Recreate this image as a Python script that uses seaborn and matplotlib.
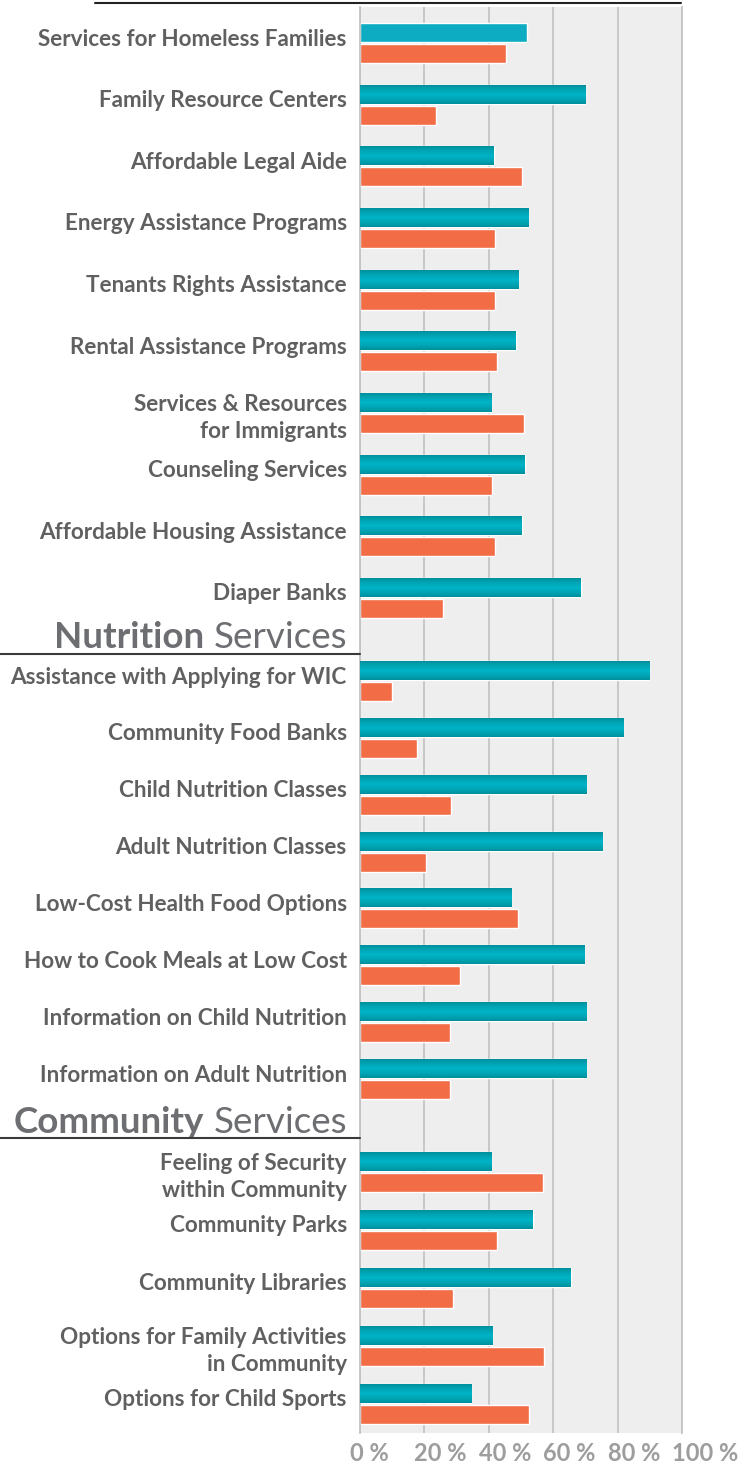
import numpy as np
import pandas as pd
import seaborn as sns
import matplotlib.pyplot as plt
from matplotlib.lines import Line2D
from matplotlib.colors import LinearSegmentedColormap
import matplotlib.transforms as mtransforms

# ---- data (percent of respondents) ----
general_items = ["Services for Homeless Families", "Family Resource Centers",
                 "Affordable Legal Aide", "Energy Assistance Programs",
                 "Tenants Rights Assistance", "Rental Assistance Programs",
                 "Services & Resources\nfor Immigrants", "Counseling Services",
                 "Affordable Housing Assistance", "Diaper Banks"]
general_teal = [51.8, 69.9, 41.6, 52.2, 49.1, 48.4, 40.7, 51.2, 50.3, 68.6]
general_orange = [45.2, 23.6, 50.3, 41.9, 41.9, 42.5, 50.9, 41.0, 41.9, 25.8]

nutrition_items = ["Assistance with Applying for WIC", "Community Food Banks",
                   "Child Nutrition Classes", "Adult Nutrition Classes",
                   "Low-Cost Health Food Options", "How to Cook Meals at Low Cost",
                   "Information on Child Nutrition", "Information on Adult Nutrition"]
nutrition_teal = [89.8, 81.7, 70.2, 75.2, 46.9, 69.6, 70.2, 70.2]
nutrition_orange = [9.9, 17.7, 28.3, 20.5, 49.1, 31.1, 28.0, 28.0]

community_items = ["Feeling of Security\nwithin Community", "Community Parks",
                   "Community Libraries", "Options for Family Activities\nin Community",
                   "Options for Child Sports"]
community_teal = [40.7, 53.7, 65.5, 41.0, 34.5]
community_orange = [56.8, 42.5, 28.9, 57.1, 52.5]

series_names = ["Need", "Have"]
x_ticks = [0, 20, 40, 60, 80, 100]
x_tick_labels = ["0 %", "20 %", "40 %", "60 %", "80 %", "100 %"]

TEAL = "#0eacc2"
ORANGE = "#f26c46"
GRID = "#c4c4c4"
TEXT = "#606060"

W, H = 748, 1470
fig = plt.figure(figsize=(W / 100, H / 100), dpi=100)
sns.set_style("white")
plt.rcParams["font.family"] = ["Lato", "DejaVu Sans"]

teal_cmap = LinearSegmentedColormap.from_list("teal", ["#008d99", "#00b3c6"])

# (items, teal, orange, top px, bottom px, first centre px, last centre px)
sections = [
    (general_items, general_teal, general_orange, 7, 641, 43, 598),
    (nutrition_items, nutrition_teal, nutrition_orange, 641, 1126, 681, 1079),
    (community_items, community_teal, community_orange, 1126, 1433, 1172, 1404),
]

axes = []
for si, (items, teal, orange, top, bot, c0, c1) in enumerate(sections):
    n = len(items)
    pitch = (c1 - c0) / (n - 1)
    ax = fig.add_axes([360 / W, 1 - bot / H, 322 / W, (bot - top) / H])
    ax.set_facecolor("#eeeeee")
    df = pd.DataFrame({"item": items * 2,
                       "value": teal + orange,
                       "series": [series_names[0]] * n + [series_names[1]] * n})
    sns.barplot(data=df, y="item", x="value", hue="series", orient="h",
                palette=[TEAL, ORANGE], saturation=1, width=42 / pitch,
                gap=0.1, legend=False, ax=ax, zorder=2)

    # shaded teal bars
    grad = np.linspace(0, 1, 40)
    grad = (1 - np.abs(2 * grad - 1)) ** 0.7
    for bi, bar in enumerate(ax.containers[0]):
        if si == 0 and bi == 0:
            continue
        x0, y0 = bar.get_x(), bar.get_y()
        bw, bh = bar.get_width(), bar.get_height()
        ax.imshow(grad[:, None], cmap=teal_cmap, aspect="auto",
                  extent=(x0, x0 + bw, y0 + bh, y0), zorder=3,
                  interpolation="bilinear")

    ax.set_xlim(0, 100)
    ax.set_ylim(n - 1 + (bot - c1) / pitch, -(c0 - top) / pitch)
    ax.set_xticks(x_ticks)
    ax.set_xticklabels([])
    ax.grid(axis="x", color=GRID, lw=1.3, zorder=0)
    ax.set_axisbelow(True)
    for s in ["top", "bottom"]:
        ax.spines[s].set_visible(False)
    for s in ["left", "right"]:
        ax.spines[s].set_color(GRID)
        ax.spines[s].set_linewidth(1.3)
    ax.set_xlabel("")
    ax.set_ylabel("")
    ax.tick_params(axis="y", length=0, pad=9.5)
    ax.tick_params(axis="x", length=0)
    up = mtransforms.ScaledTranslation(0, 6 / 100, fig.dpi_scale_trans)
    for lab in ax.get_yticklabels():
        lab.set_fontfamily("Lato")
        lab.set_fontweight("bold")
        lab.set_fontsize(16.2)
        lab.set_color(TEXT)
        lab.set_linespacing(1.35)
        if "\n" not in lab.get_text():
            lab.set_transform(lab.get_transform() + up)
    axes.append(ax)

# bottom axis ticks and labels
ax = axes[-1]
ax.tick_params(axis="x", length=7.5, width=1.3, color=GRID)
off = mtransforms.ScaledTranslation(-10 / 100, -9 / 100, fig.dpi_scale_trans)
for v, lab in zip(x_ticks, x_tick_labels):
    ax.text(v, 0, lab, transform=ax.get_xaxis_transform() + off,
            ha="left", va="top", fontsize=17, fontweight="bold",
            color="#9d9d9d", family="Lato", clip_on=False)

# top rule
fig.add_artist(Line2D([95 / W, 681 / W], [1 - 3 / H] * 2,
                      transform=fig.transFigure, color="#222222", lw=1.5))

# section headers
HEAD = "#6d6e71"
for bold_word, baseline, line_y, hax in [("Nutrition", 648, 654, axes[0]),
                                          ("Community", 1133, 1138, axes[1])]:
    t = fig.text(347 / W, 1 - baseline / H, "Services", ha="right",
                 va="baseline", fontsize=26.5, family="Lato", color=HEAD)
    hax.annotate(bold_word, xy=(0, 0), xycoords=t, xytext=(-7, 0),
                 textcoords="offset points", ha="right", va="bottom",
                 fontsize=26.5, family="Lato", fontweight="bold", color=HEAD,
                 annotation_clip=False)
    fig.add_artist(Line2D([0, 360 / W], [1 - line_y / H] * 2,
                          transform=fig.transFigure, color="#3a3a3a", lw=1.5))

fig.savefig("out.png", dpi=100)
